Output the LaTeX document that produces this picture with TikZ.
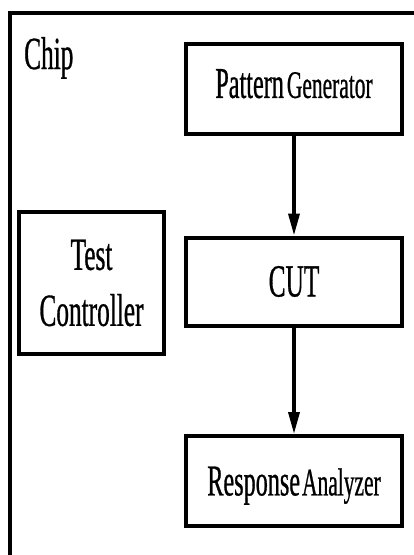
\documentclass[tikz,border=0pt]{standalone}
\usepackage{fontspec}
\setmainfont{Liberation Serif}[FakeStretch=0.55,FakeBold=0.6]
\usetikzlibrary{arrows.meta}

% second word of a block label is set a bit smaller
\newcommand\smword[1]{{\fontsize{39}{42}\selectfont #1}}

\tikzset{
	blk/.style={draw=black, line width=4pt, inner sep=0pt, align=center,
		font=\fontsize{44}{56}\selectfont},
	flow/.style={line width=3.5pt, -{Triangle[length=22pt,width=11pt]}}
}

\begin{document}
\begin{tikzpicture}[x=1pt,y=-1pt]

\useasboundingbox (0,0) rectangle (414,555);
\clip (0,0) rectangle (414,555);

\def\cx{294}
\def\bw{216}

% chip outline, runs past the right and bottom edge
\draw[line width=4pt] (10,600) -- (10,12.5) -- (470,12.5);
\node[anchor=base west, inner sep=0pt, font=\fontsize{46}{50}\selectfont] (chip) at (24,69) {Chip};

% blocks
\node[blk, minimum width=\bw, minimum height=90, text depth=11pt] (pg) at (\cx,89) {Pattern\hspace{3pt}\smword{Generator}};
\node[blk, minimum width=\bw, minimum height=88, font=\fontsize{46}{56}\selectfont] (cut) at (\cx,281.5) {CUT};
\node[blk, minimum width=\bw, minimum height=90, text depth=0pt] (ra) at (\cx,481) {Response\hspace{2pt}\smword{Analyzer}};
\node[blk, minimum width=145, minimum height=141.5, font=\fontsize{46}{56}\selectfont] (tc) at (91.5,283) {Test\\Controller};

% data path
\draw[flow] (pg.south) -- (cut.north);
\draw[flow] (cut.south) -- (ra.north);

\end{tikzpicture}
\end{document}
